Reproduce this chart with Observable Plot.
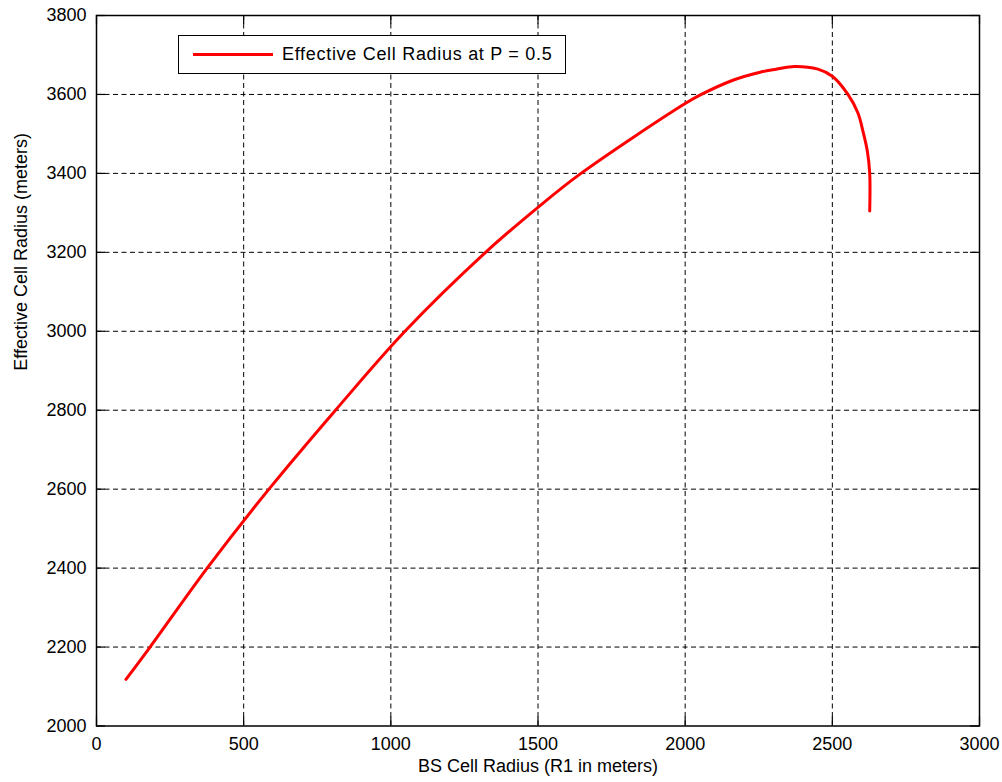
<!DOCTYPE html>
<html>
<head>
<meta charset="utf-8">
<script src="https://cdn.jsdelivr.net/npm/d3@7"></script>
<script src="https://cdn.jsdelivr.net/npm/@observablehq/plot@0.6"></script>
<style>
  html, body { margin: 0; padding: 0; background: #fff; }
  #wrap { position: relative; width: 1002px; height: 782px; font-family: "Liberation Sans", Arial, sans-serif; }
  #legend { position: absolute; left: 178px; top: 35px; width: 386px; height: 37px; border: 1.5px solid #000; background: #fff; display: flex; align-items: center; box-sizing: content-box; }
  #legend .swatch { width: 80px; height: 3px; background: #ff0000; margin-left: 14px; margin-right: 9px; }
  #legend .lbl { font-size: 18px; letter-spacing: 0.7px; color: #000; }
</style>
</head>
<body>
<div id="wrap"></div>
<script>
// BS cell radius R1 (meters)
const radius = [100, 182, 376, 586, 812, 1048, 1322, 1500, 1646, 2000, 2055, 2162, 2258, 2309, 2372, 2451, 2500, 2553, 2587, 2604, 2619, 2627, 2627];
// Effective cell radius at P = 0.5 (meters)
const effective = [2118, 2200, 2400, 2600, 2800, 3000, 3200, 3314, 3400, 3577, 3600, 3636, 3657, 3664, 3671, 3664, 3646, 3600, 3553, 3507, 3456, 3400, 3305];

const xTicks = [0, 500, 1000, 1500, 2000, 2500, 3000];
const yTicks = [2000, 2200, 2400, 2600, 2800, 3000, 3200, 3400, 3600, 3800];
const xGrid = [500, 1000, 1500, 2000, 2500];
const yGrid = [2200, 2400, 2600, 2800, 3000, 3200, 3400, 3600];
const xLabel = "BS Cell Radius (R1 in meters)";
const yLabel = "Effective Cell Radius (meters)";
const legendLabel = "Effective Cell Radius at P = 0.5";

const data = radius.map((r, i) => ({r, e: effective[i]}));

const W = 1002, H = 782;
const mL = 96, mR = 23, mT = 15, mB = 56.5;
const iw = W - mL - mR, ih = H - mT - mB;
const tl = 9;
const dash = "5,3.5";

const chart = Plot.plot({
  width: W, height: H,
  marginLeft: mL, marginRight: mR, marginTop: mT, marginBottom: mB,
  style: {fontFamily: "Liberation Sans, Arial, sans-serif", fontSize: "18px", background: "#fff", color: "#000"},
  x: {domain: [0, 3000]},
  y: {domain: [2000, 3800]},
  marks: [
    Plot.ruleX(xGrid, {x: d => d, stroke: "#000", strokeWidth: 1, strokeDasharray: dash}),
    Plot.ruleY(yGrid, {y: d => d, stroke: "#000", strokeWidth: 1, strokeDasharray: dash}),
    Plot.tickX(xTicks, {x: d => d, insetTop: ih - tl, stroke: "#000", strokeWidth: 1.2}),
    Plot.tickX(xTicks, {x: d => d, insetBottom: ih - tl, stroke: "#000", strokeWidth: 1.2}),
    Plot.tickY(yTicks, {y: d => d, insetRight: iw - tl, stroke: "#000", strokeWidth: 1.2}),
    Plot.tickY(yTicks, {y: d => d, insetLeft: iw - tl, stroke: "#000", strokeWidth: 1.2}),
    Plot.frame({stroke: "#000", strokeWidth: 1.5}),
    Plot.line(data, {x: "r", y: "e", stroke: "#ff0000", strokeWidth: 3, curve: "catmull-rom"}),
    Plot.axisX(xTicks, {tickSize: 0, tickPadding: 11, label: null, fontSize: 18, tickFormat: d => String(d)}),
    Plot.axisY(yTicks, {tickSize: 0, tickPadding: 10, label: null, fontSize: 18, tickFormat: d => String(d)}),
    Plot.text([xLabel], {text: d => d, frameAnchor: "bottom", dy: 46, fontSize: 18, letterSpacing: 0.4, fill: "#000"}),
    Plot.text([yLabel], {text: d => d, frameAnchor: "left", dx: -75, rotate: -90, fontSize: 18, letterSpacing: 0.4, fill: "#000"})
  ]
});

const wrap = document.getElementById("wrap");
wrap.appendChild(chart);
const leg = document.createElement("div");
leg.id = "legend";
leg.innerHTML = '<div class="swatch"></div><span class="lbl"></span>';
leg.querySelector(".lbl").textContent = legendLabel;
wrap.appendChild(leg);
</script>
</body>
</html>
